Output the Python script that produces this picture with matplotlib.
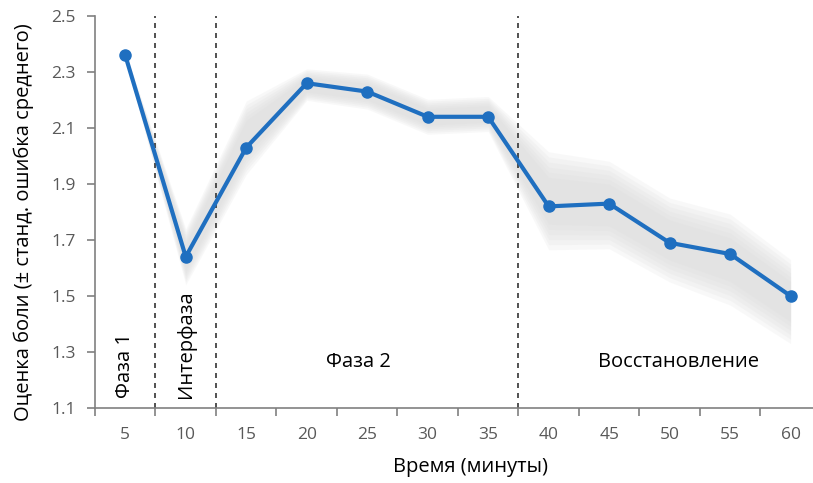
import matplotlib.pyplot as plt
import numpy as np

plt.rcParams['font.family'] = ['Open Sans', 'DejaVu Sans']

minutes = ['5', '10', '15', '20', '25', '30', '35', '40', '45', '50', '55', '60']
pain = [2.36, 1.64, 2.03, 2.26, 2.23, 2.14, 2.14, 1.82, 1.83, 1.69, 1.65, 1.50]
upper = [2.37, 1.72, 2.17, 2.30, 2.28, 2.19, 2.20, 1.98, 1.95, 1.82, 1.76, 1.60]
lower = [2.35, 1.56, 1.96, 2.21, 2.18, 2.09, 2.10, 1.70, 1.70, 1.58, 1.50, 1.36]
phase_breaks = [0.5, 1.5, 6.5]

x = np.arange(len(minutes))

fig = plt.figure(figsize=(8.13, 4.83), dpi=100)
ax = fig.add_axes([95 / 813, 1 - 408 / 483, 718 / 813, 392 / 483])

# soft, blurry error band
mid = (np.array(upper) + np.array(lower)) / 2
half = (np.array(upper) - np.array(lower)) / 2
for k in np.linspace(1.25, 0.6, 6):
    ax.fill_between(x, mid - half * k, mid + half * k, color='#d8d8d8', alpha=0.16,
                    lw=0, antialiased=False, zorder=1)

ax.plot(x, pain, color='#1f6fc0', lw=3, marker='o', ms=8, zorder=3)

for b in phase_breaks:
    ax.plot([b, b], [1.1, 2.5], ls=(0, (3, 3)), color='#333333', lw=1.2, zorder=2)

ax.set_xlim(-0.5, 11.37)
ax.set_ylim(1.1, 2.5)
ax.set_xticks(x)
ax.set_xticklabels(minutes)
ax.set_xticks(np.arange(-0.5, 11.5, 1), minor=True)
ax.tick_params(axis='x', which='major', length=0, pad=14, labelsize=12.5, labelcolor='#595959')
ax.tick_params(axis='x', which='minor', length=6, width=1.2, color='#808080', direction='out')
ax.set_yticks(np.arange(1.1, 2.51, 0.2))
ax.set_yticklabels([f'{v:.1f}' for v in np.arange(1.1, 2.51, 0.2)])
ax.tick_params(axis='y', length=6, width=1.2, color='#808080', labelsize=12.5, labelcolor='#595959', pad=8)

for s in ['top', 'right']:
    ax.spines[s].set_visible(False)
for s in ['left', 'bottom']:
    ax.spines[s].set_color('#808080')
    ax.spines[s].set_linewidth(1.2)

ax.set_xlabel('Время (минуты)', fontsize=14.5)
ax.set_ylabel('Оценка боли (± станд. ошибка среднего)', fontsize=14.5)
ax.xaxis.set_label_coords((470 - 95) / 718, -(457 - 408) / 392)
ax.yaxis.set_label_coords(-(95 - 34) / 718, (408 - 222) / 392)

ax.text(0, 1.135, 'Фаза 1', rotation=90, ha='center', va='bottom', fontsize=14.5)
ax.text(1, 1.135, 'Интерфаза', rotation=90, ha='center', va='bottom', fontsize=14.5)
ax.text(3.85, 1.265, 'Фаза 2', ha='center', va='center', fontsize=14.5)
ax.text(9.15, 1.265, 'Восстановление', ha='center', va='center', fontsize=14.5)

fig.savefig('out.png', dpi=100)
